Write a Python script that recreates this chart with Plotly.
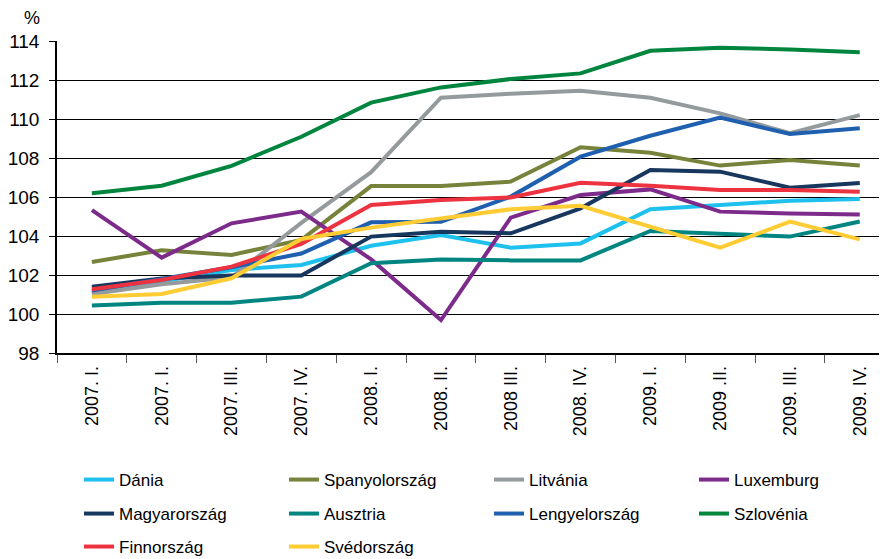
import plotly.graph_objects as go

# quarter ids (unique) and the labels printed on the axis
quarters = ["2007Q1", "2007Q2", "2007Q3", "2007Q4", "2008Q1", "2008Q2",
            "2008Q3", "2008Q4", "2009Q1", "2009Q2", "2009Q3", "2009Q4"]
tick_labels = ["2007. I.", "2007. I.", "2007. III.", "2007. IV.", "2008. I.", "2008. II.",
               "2008 III.", "2008. IV.", "2009. I.", "2009 .II.", "2009. III.", "2009. IV."]

dania = [101.1, 101.7, 102.26, 102.51, 103.5, 104.05, 103.4, 103.62, 105.37, 105.59, 105.81, 105.9]
spanyol = [102.67, 103.27, 103.03, 103.8, 106.56, 106.56, 106.79, 108.55, 108.27, 107.61, 107.9, 107.61]
litvania = [101.03, 101.52, 101.88, 104.67, 107.27, 111.09, 111.3, 111.45, 111.09, 110.29, 109.27, 110.2]
luxemburg = [105.33, 102.89, 104.65, 105.25, 102.8, 99.69, 104.94, 106.1, 106.39, 105.25, 105.16, 105.1]
magyar = [101.4, 101.82, 101.97, 101.98, 103.97, 104.22, 104.14, 105.42, 107.38, 107.3, 106.48, 106.72]
ausztria = [100.43, 100.58, 100.58, 100.89, 102.6, 102.8, 102.75, 102.75, 104.26, 104.14, 103.97, 104.74]
lengyel = [101.2, 101.8, 102.4, 103.1, 104.7, 104.73, 106.02, 108.07, 109.14, 110.07, 109.23, 109.52]
szlovenia = [106.19, 106.58, 107.6, 109.09, 110.84, 111.62, 112.05, 112.34, 113.5, 113.66, 113.57, 113.42]
finn = [101.27, 101.74, 102.43, 103.59, 105.59, 105.85, 105.98, 106.73, 106.58, 106.36, 106.36, 106.27]
sved = [100.89, 101.03, 101.83, 103.85, 104.43, 104.91, 105.37, 105.55, 104.48, 103.4, 104.74, 103.83]

series = [
    ("Dánia", dania, "#1EC0EE", "legend"),
    ("Spanyolország", spanyol, "#77823A", "legend"),
    ("Litvánia", litvania, "#959B9D", "legend"),
    ("Luxemburg", luxemburg, "#7D2B8B", "legend"),
    ("Magyarország", magyar, "#17375E", "legend2"),
    ("Ausztria", ausztria, "#008580", "legend2"),
    ("Lengyelország", lengyel, "#1F5FAF", "legend2"),
    ("Szlovénia", szlovenia, "#00853F", "legend2"),
    ("Finnország", finn, "#EE3340", "legend3"),
    ("Svédország", sved, "#FFCC33", "legend3"),
]

FONT = "Liberation Sans, Arial, sans-serif"

fig = go.Figure()
for name, vals, color, leg in series:
    fig.add_trace(go.Scatter(
        x=quarters, y=vals, name=name, mode="lines",
        line=dict(color=color, width=4), legend=leg,
    ))

# the page puts the figure 8px in from the top-left corner
PAD = 8
W, H = 887 - PAD, 559 - PAD
L, T, PW, PH = 57 - PAD, 41 - PAD, 830, 312
B = H - T - PH
plot_bottom = T + PH + PAD  # page y of the x axis

legend_style = dict(
    orientation="h", xanchor="left", yanchor="middle",
    entrywidth=160, entrywidthmode="pixels",
    font=dict(family=FONT, size=17, color="#000000"),
    bgcolor="rgba(0,0,0,0)", itemclick=False, itemdoubleclick=False,
)
leg_x = (79 - 57) / PW

fig.update_layout(
    width=W, height=H,
    margin=dict(l=L, r=0, t=T, b=B, autoexpand=False),
    plot_bgcolor="white", paper_bgcolor="white",
    font=dict(family=FONT, color="#000000"),
    legend=dict(**legend_style, x=leg_x, y=-(480 - plot_bottom) / PH),
    legend2=dict(**legend_style, x=leg_x, y=-(514 - plot_bottom) / PH),
    legend3=dict(**legend_style, x=leg_x, y=-(547 - plot_bottom) / PH),
    xaxis=dict(
        type="category", tickmode="array", tickvals=quarters, ticktext=tick_labels,
        range=[-0.5, 11.39], tickson="boundaries", ticks="outside", ticklen=8,
        tickcolor="#555555", tickwidth=1, showline=True, linecolor="#000000", linewidth=1.5,
        showgrid=False, tickangle=-90, ticklabelstandoff=4, automargin=False,
        tickfont=dict(family=FONT, size=18, color="#000000"),
    ),
    yaxis=dict(
        range=[98, 114], dtick=2, tick0=98, showgrid=True, gridcolor="#000000", gridwidth=1,
        showline=True, linecolor="#000000", linewidth=1.5, ticks="outside", ticklen=6,
        tickcolor="#000000", zeroline=False, automargin=False, ticklabelstandoff=6,
        tickfont=dict(family=FONT, size=19, color="#000000"),
    ),
    annotations=[dict(
        text="%", xref="paper", yref="paper", x=(32 - 57) / PW, y=1 + (41 - 18) / PH,
        xanchor="center", yanchor="middle",
        showarrow=False, font=dict(family=FONT, size=18, color="#000000"),
    )],
)

fig.write_html("out.html")
